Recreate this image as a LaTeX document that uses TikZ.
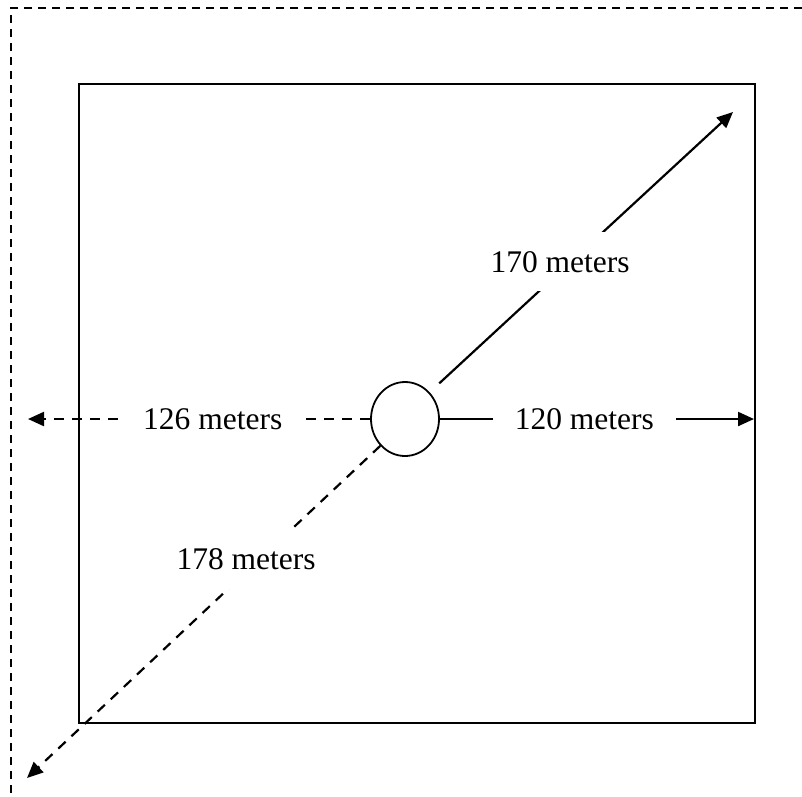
\documentclass[tikz,border=0pt]{standalone}
\usepackage{fontspec}
\setmainfont{Liberation Serif}
\usetikzlibrary{arrows.meta}
\usetikzlibrary{shapes.geometric}
\tikzset{
    every node/.append style={font=\fontsize{31.5}{37}\selectfont},
    reach/.style={-{Triangle[length=16pt,width=14pt]}, line width=2.2pt},
    reachdash/.style={reach, dash pattern=on 10pt off 8pt},
    dist/.style={fill=white, inner xsep=22pt, inner ysep=19pt},
    site/.style={draw, ellipse, line width=1.8pt, minimum width=68pt, minimum height=74pt, inner sep=0pt}
}

\begin{document}
\begin{tikzpicture}[x=1pt,y=-1pt]
\useasboundingbox (0,0) rectangle (802,796);

% outer boundary and plot
\draw[line width=2.4pt, dash pattern=on 8pt off 6pt] (802,8) -- (11,8) -- (11,796);
\draw[line width=2.4pt] (79,84) rectangle (755,723);

\node[site] (well) at (405,419) {};

\coordinate (W) at (28,419);
\coordinate (E) at (754,419);
\coordinate (NE) at (733,112);
\coordinate (SW) at (27,778);

\draw[reachdash] (well.west) -- (W) node[dist, pos=0.46] {126 meters};
\draw[reach] (well.east) -- (E) node[dist, pos=0.46] {120 meters};
\draw[reach, shorten <=13pt] (well.north east) -- (NE) node[dist, pos=0.43, yshift=10pt] {170 meters};
\draw[reachdash] (well.south west) -- (SW) node[dist, pos=0.38, yshift=13pt] {178 meters};
\end{tikzpicture}
\end{document}
